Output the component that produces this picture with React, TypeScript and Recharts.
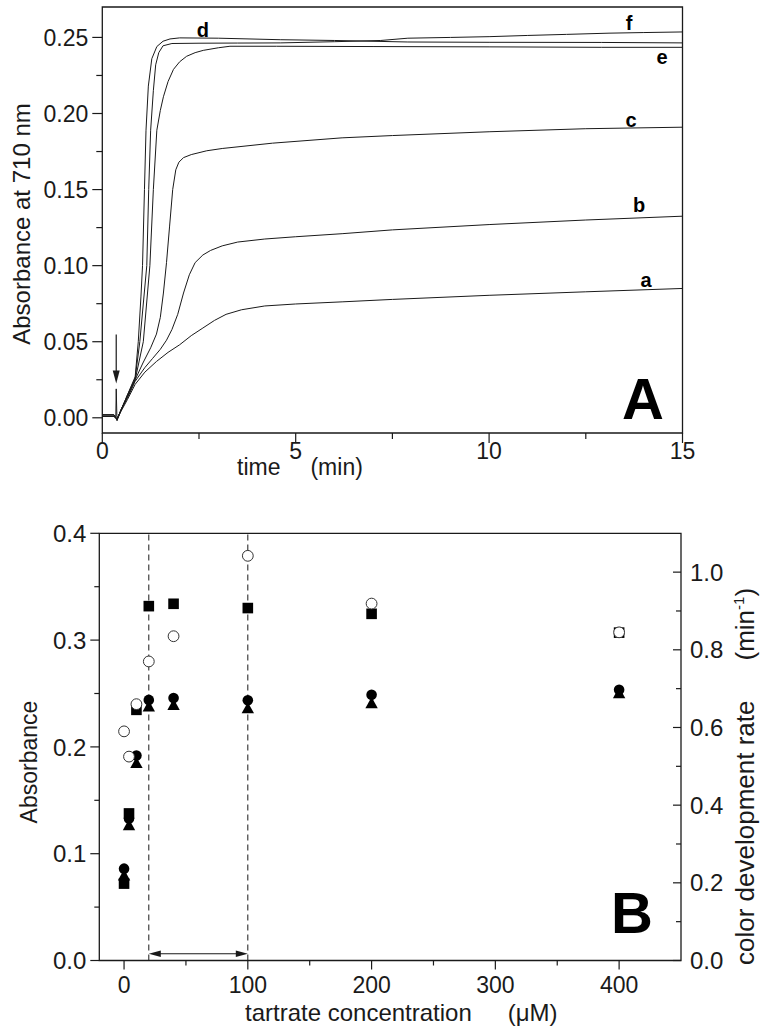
import React from "react";
import {
  LineChart,
  Line,
  XAxis,
  YAxis,
  Label,
  ReferenceArea,
  ReferenceLine,
  ReferenceDot,
  ScatterChart,
  Scatter,
} from "recharts";

const FONT = "'Liberation Sans', Arial, Helvetica, sans-serif";
const INK = "#1a1a1a";

// ---- panel A: absorbance at 710 nm vs time (min), curves a-f ----
const timeA = [0, 0.3, 0.38, 0.5, 0.65, 0.85, 1.1, 1.4, 1.7, 2.0, 2.3, 2.6, 2.9, 3.2, 3.6, 4.2, 5, 6.2, 7.5, 10, 12.5, 15];
const absA = [0.002, 0.002, -0.001, 0.005, 0.012, 0.022, 0.03, 0.037, 0.043, 0.048, 0.054, 0.059, 0.064, 0.068, 0.071, 0.0735, 0.0748, 0.0762, 0.0778, 0.0805, 0.0828, 0.085];

const timeB = [0, 0.3, 0.38, 0.5, 0.65, 0.85, 1.1, 1.3, 1.5, 1.66, 1.8, 1.95, 2.1, 2.25, 2.4, 2.6, 2.8, 3.1, 3.5, 4.2, 5, 6.2, 7.5, 10, 12.5, 15];
const absB = [0.001, 0.001, -0.001, 0.006, 0.013, 0.024, 0.033, 0.039, 0.045, 0.051, 0.058, 0.068, 0.082, 0.094, 0.102, 0.107, 0.11, 0.113, 0.1155, 0.1175, 0.119, 0.121, 0.1235, 0.127, 0.13, 0.1325];

const timeC = [0, 0.3, 0.38, 0.5, 0.65, 0.85, 1.05, 1.25, 1.4, 1.5, 1.58, 1.66, 1.74, 1.82, 1.9, 1.98, 2.1, 2.3, 2.7, 3.1, 4.4, 6.2, 7.5, 10, 12.5, 15];
const absC = [0.001, 0.001, -0.001, 0.006, 0.014, 0.025, 0.036, 0.046, 0.055, 0.066, 0.082, 0.102, 0.126, 0.15, 0.163, 0.168, 0.171, 0.173, 0.1755, 0.177, 0.1805, 0.184, 0.1855, 0.188, 0.19, 0.191];

const timeD = [0, 0.3, 0.35, 0.36, 0.38, 0.5, 0.65, 0.85, 0.93, 1.0, 1.04, 1.09, 1.13, 1.19, 1.28, 1.41, 1.57, 1.75, 2.0, 3.0, 4.6, 6.0, 7.9, 10, 12.9, 15];
const absD = [0.001, 0.001, 0.001, 0.019, -0.002, 0.006, 0.015, 0.027, 0.05, 0.08, 0.1, 0.15, 0.189, 0.218, 0.236, 0.244, 0.2475, 0.249, 0.2497, 0.2495, 0.2485, 0.248, 0.247, 0.2468, 0.2467, 0.2464];

const timeE = [0, 0.3, 0.38, 0.5, 0.65, 0.85, 1.06, 1.23, 1.32, 1.41, 1.5, 1.58, 1.7, 1.84, 2.0, 2.18, 2.4, 2.61, 3.0, 3.3, 4.5, 7, 10, 12.9, 15];
const absE = [0.001, 0.001, -0.001, 0.006, 0.014, 0.025, 0.05, 0.1, 0.15, 0.189, 0.202, 0.211, 0.221, 0.229, 0.234, 0.2376, 0.24, 0.2415, 0.2432, 0.2442, 0.2442, 0.244, 0.2438, 0.2435, 0.2435];

const timeF = [0, 0.3, 0.38, 0.5, 0.65, 0.85, 0.97, 1.15, 1.2, 1.25, 1.32, 1.38, 1.46, 1.57, 1.8, 2.5, 3.5, 4.6, 6.0, 7.2, 7.9, 9, 10, 11, 12, 13.1, 14, 15];
const absF = [0.002, 0.002, -0.001, 0.006, 0.015, 0.026, 0.05, 0.1, 0.15, 0.189, 0.215, 0.232, 0.24, 0.2445, 0.246, 0.2462, 0.2463, 0.2464, 0.2472, 0.248, 0.2495, 0.25, 0.2505, 0.2513, 0.252, 0.2528, 0.2532, 0.2536];

const curveNames = ["a", "b", "c", "d", "e", "f"];
const curveTimes = [timeA, timeB, timeC, timeD, timeE, timeF];
const curveAbs = [absA, absB, absC, absD, absE, absF];

// where the letters sit (data units)
const letterT = [14.06, 13.88, 13.67, 2.6, 14.47, 13.62];
const letterAbs = [0.0909, 0.14, 0.196, 0.2551, 0.2373, 0.2594];

const ticksTime = [0, 2.5, 5, 7.5, 10, 12.5, 15];
const ticksAbsA = [0, 0.025, 0.05, 0.075, 0.1, 0.125, 0.15, 0.175, 0.2, 0.225, 0.25];

// ---- panel B: vs tartrate concentration (uM) ----
const concB = [0, 4, 10, 20, 40, 100, 200, 400];
const absSquare = [0.072, 0.1377, 0.2347, 0.3318, 0.334, 0.33, 0.3246, 0.307];
const absCircle = [0.086, 0.133, 0.192, 0.244, 0.2457, 0.2437, 0.2488, 0.2535];
const absTriangle = [0.0798, 0.1268, 0.185, 0.238, 0.2395, 0.2363, 0.241, 0.2504];
const rateOpen = [0.59, 0.525, 0.66, 0.77, 0.835, 1.042, 0.919, 0.845];

const ticksConc = [0, 50, 100, 150, 200, 250, 300, 350, 400];
const ticksAbsB = [0, 0.05, 0.1, 0.15, 0.2, 0.25, 0.3, 0.35, 0.4];
const ticksRate = [0, 0.1, 0.2, 0.3, 0.4, 0.5, 0.6, 0.7, 0.8, 0.9, 1.0];

const onStep = (v: number, step: number) => Math.abs(v / step - Math.round(v / step)) < 1e-6;

const toRows = (xs: number[], ys: number[]) => xs.map((x, i) => ({ x, y: ys[i] }));

// tick renderers: axes use tickSize 0 / tickMargin 0 so (x, y) is on the axis line
const leftTick = (step: number, major: number, minor: number, fs: number, digits: number) => (p: any) => {
  const { x, y, payload } = p;
  const big = onStep(payload.value, step);
  const len = big ? major : minor;
  return (
    <g>
      <line x1={x - len} x2={x} y1={y} y2={y} stroke={INK} strokeWidth={1.2} />
      {big && (
        <text x={x - len - 4} y={y} dy="0.36em" textAnchor="end" fontSize={fs} fontFamily={FONT} fill={INK}>
          {payload.value.toFixed(digits)}
        </text>
      )}
    </g>
  );
};

const rightTick = (step: number, major: number, minor: number, fs: number) => (p: any) => {
  const { x, y, payload } = p;
  const big = onStep(payload.value, step);
  const len = big ? major : minor;
  return (
    <g>
      <line x1={x - len} x2={x} y1={y} y2={y} stroke={INK} strokeWidth={1.2} />
      {big && (
        <text x={x + 9} y={y} dy="0.36em" textAnchor="start" fontSize={fs} fontFamily={FONT} fill={INK}>
          {payload.value.toFixed(1)}
        </text>
      )}
    </g>
  );
};

const bottomTick = (step: number, major: number, minor: number, fs: number, gap: number) => (p: any) => {
  const { x, y, payload } = p;
  const big = onStep(payload.value, step);
  const len = big ? major : minor;
  return (
    <g>
      <line x1={x} x2={x} y1={y} y2={y + len} stroke={INK} strokeWidth={1.2} />
      {big && (
        <text x={x} y={y + gap} textAnchor="middle" fontSize={fs} fontFamily={FONT} fill={INK}>
          {payload.value}
        </text>
      )}
    </g>
  );
};

const textMark = (s: string, fs: number) => (p: any) => (
  <text x={p.cx} y={p.cy} dy="0.36em" textAnchor="middle" fontSize={fs} fontWeight="bold" fontFamily={FONT} fill="#000">
    {s}
  </text>
);

const arrowHead = (dir: string, len: number, half: number) => (p: any) => {
  const { cx, cy } = p;
  let pts = "";
  if (dir === "down") pts = `${cx},${cy} ${cx - half},${cy - len} ${cx + half},${cy - len}`;
  if (dir === "left") pts = `${cx},${cy} ${cx + len},${cy - half} ${cx + len},${cy + half}`;
  if (dir === "right") pts = `${cx},${cy} ${cx - len},${cy - half} ${cx - len},${cy + half}`;
  return <polygon points={pts} fill={INK} />;
};

const squareShape = (p: any) => <rect x={p.cx - 5.3} y={p.cy - 5.3} width={10.6} height={10.6} fill="#000" />;
const dotShape = (p: any) => <circle cx={p.cx} cy={p.cy} r={5.3} fill="#000" />;
const triShape = (p: any) => (
  <polygon points={`${p.cx},${p.cy - 6} ${p.cx - 6.2},${p.cy + 5.2} ${p.cx + 6.2},${p.cy + 5.2}`} fill="#000" />
);
const ringShape = (p: any) => <circle cx={p.cx} cy={p.cy} r={5.4} fill="#fff" stroke="#333" strokeWidth={1} />;

function PanelA() {
  return (
    <LineChart width={766} height={480} margin={{ top: 7, right: 83.5, bottom: 0, left: 0 }} style={{ fontFamily: FONT }}>
      <XAxis
        dataKey="x"
        type="number"
        domain={[0, 15]}
        ticks={ticksTime}
        interval={0}
        height={47}
        axisLine={false}
        tickLine={false}
        tickSize={0}
        tickMargin={0}
        tick={bottomTick(5, 10, 6, 23, 26)}
      >
        <Label
          content={() => (
            <text x={237} y={475} fontSize={23} fontFamily={FONT} fill={INK}>
              time
              <tspan dx={30}>(min)</tspan>
            </text>
          )}
        />
      </XAxis>
      <YAxis
        type="number"
        domain={[-0.01, 0.27]}
        ticks={ticksAbsA}
        interval={0}
        width={102.3}
        axisLine={false}
        tickLine={false}
        tickSize={0}
        tickMargin={0}
        tick={leftTick(0.05, 10, 6, 23, 2)}
      >
        <Label
          content={() => (
            <text x={30} y={224} transform="rotate(-90 30 224)" textAnchor="middle" fontSize={24} fontFamily={FONT} fill={INK}>
              Absorbance at 710 nm
            </text>
          )}
        />
      </YAxis>
      <ReferenceArea x1={0} x2={15} y1={-0.01} y2={0.27} fill="none" stroke={INK} strokeWidth={1.3} />
      {curveNames.map((n, i) => (
        <Line
          key={n}
          data={toRows(curveTimes[i], curveAbs[i])}
          dataKey="y"
          type="linear"
          dot={false}
          activeDot={false}
          stroke={INK}
          strokeWidth={1}
          isAnimationActive={false}
        />
      ))}
      {curveNames.map((n, i) => (
        <ReferenceDot key={"l" + n} x={letterT[i]} y={letterAbs[i]} r={0} shape={textMark(n, 20)} />
      ))}
      <ReferenceDot x={13.98} y={0.0127} r={0} shape={textMark("A", 58)} />
      <ReferenceLine segment={[{ x: 0.36, y: 0.0547 }, { x: 0.36, y: 0.03 }]} stroke={INK} strokeWidth={1.2} />
      <ReferenceDot x={0.36} y={0.0225} r={0} shape={arrowHead("down", 13, 3.5)} />
    </LineChart>
  );
}

function PanelB() {
  return (
    <ScatterChart width={766} height={553} margin={{ top: 53.3, right: 0, bottom: 0, left: 0 }} style={{ fontFamily: FONT }}>
      <XAxis
        dataKey="x"
        type="number"
        domain={[-20, 450]}
        ticks={ticksConc}
        interval={0}
        height={72.5}
        axisLine={false}
        tickLine={false}
        tickSize={0}
        tickMargin={0}
        tick={bottomTick(100, 9, 5, 23, 32)}
      >
        <Label
          content={() => (
            <text x={245} y={541} fontSize={24} fontFamily={FONT} fill={INK}>
              tartrate concentration
              <tspan dx={36}>(μM)</tspan>
            </text>
          )}
        />
      </XAxis>
      <YAxis
        yAxisId="abs"
        dataKey="y"
        type="number"
        domain={[0, 0.4]}
        ticks={ticksAbsB}
        interval={0}
        width={99.3}
        axisLine={false}
        tickLine={false}
        tickSize={0}
        tickMargin={0}
        tick={leftTick(0.1, 9, 5, 24, 1)}
      >
        <Label
          content={() => (
            <text x={37} y={282} transform="rotate(-90 37 282)" textAnchor="middle" fontSize={23} fontFamily={FONT} fill={INK}>
              Absorbance
            </text>
          )}
        />
      </YAxis>
      <YAxis
        yAxisId="rate"
        orientation="right"
        dataKey="y"
        type="number"
        domain={[0, 1.1]}
        ticks={ticksRate}
        interval={0}
        width={85}
        axisLine={false}
        tickLine={false}
        tickSize={0}
        tickMargin={0}
        tick={rightTick(0.2, 8, 5, 24)}
      >
        <Label
          content={() => (
            <text x={754} y={485} transform="rotate(-90 754 485)" textAnchor="start" fontSize={26} fontFamily={FONT} fill={INK}>
              color development rate
              <tspan dx={40}>(min</tspan>
              <tspan dy={-10} fontSize={15}>-1</tspan>
              <tspan dy={10}>)</tspan>
            </text>
          )}
        />
      </YAxis>
      <ReferenceArea yAxisId="abs" x1={-20} x2={450} y1={0} y2={0.4} fill="none" stroke={INK} strokeWidth={1.3} />
      <ReferenceLine yAxisId="abs" x={20} stroke={INK} strokeWidth={1} strokeDasharray="6 4" />
      <ReferenceLine yAxisId="abs" x={100} stroke={INK} strokeWidth={1} strokeDasharray="6 4" />
      <ReferenceLine
        yAxisId="abs"
        segment={[{ x: 27, y: 0.0063 }, { x: 93, y: 0.0063 }]}
        stroke={INK}
        strokeWidth={1.2}
      />
      <ReferenceDot yAxisId="abs" x={20} y={0.0063} r={0} shape={arrowHead("left", 12, 3.2)} />
      <ReferenceDot yAxisId="abs" x={100} y={0.0063} r={0} shape={arrowHead("right", 12, 3.2)} />
      <Scatter yAxisId="abs" data={toRows(concB, absSquare)} shape={squareShape} isAnimationActive={false} />
      <Scatter yAxisId="abs" data={toRows(concB, absTriangle)} shape={triShape} isAnimationActive={false} />
      <Scatter yAxisId="abs" data={toRows(concB, absCircle)} shape={dotShape} isAnimationActive={false} />
      <Scatter yAxisId="rate" data={toRows(concB, rateOpen)} shape={ringShape} isAnimationActive={false} />
      <ReferenceDot yAxisId="abs" x={410.4} y={0.0454} r={0} shape={textMark("B", 58)} />
    </ScatterChart>
  );
}

export default function App() {
  return (
    <div style={{ position: "absolute", left: 0, top: 0, width: 766, height: 1033, background: "#fff" }}>
      <div style={{ position: "absolute", left: 0, top: 0 }}>
        <PanelA />
      </div>
      <div style={{ position: "absolute", left: 0, top: 480 }}>
        <PanelB />
      </div>
    </div>
  );
}
